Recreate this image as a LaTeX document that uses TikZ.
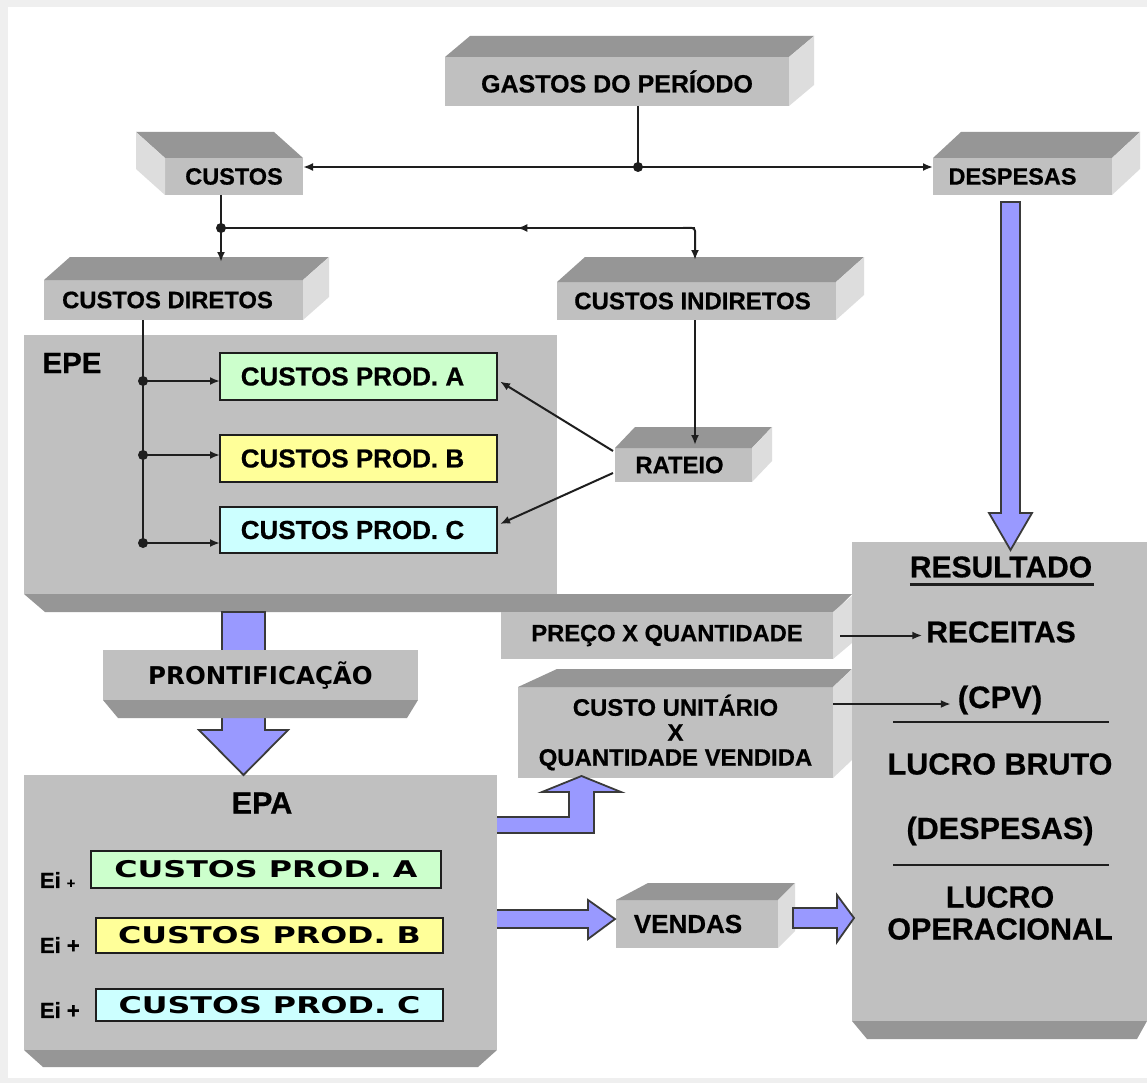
\documentclass[tikz,border=0pt]{standalone}
\usepackage{fontspec}
\setmainfont{Liberation Sans}[BoldFeatures={FakeBold=0.6}]
\newfontfamily\dvb{DejaVu Sans}
\newfontfamily\dvw{DejaVu Sans}[FakeStretch=1.38]
\usetikzlibrary{arrows.meta,calc,decorations.markings}
\definecolor{frontc}{HTML}{C0C0C0}
\definecolor{topc}{HTML}{969696}
\definecolor{sidec}{HTML}{DDDDDD}
\definecolor{lav}{HTML}{9999FF}
\definecolor{lavline}{HTML}{3A3A3A}
\definecolor{pga}{HTML}{CCFFCC}
\definecolor{pgb}{HTML}{FFFF99}
\definecolor{pgc}{HTML}{CCFFFF}
\definecolor{ink}{HTML}{1E1E1E}
\definecolor{framec}{HTML}{EFEFEF}
\newcommand\fsz[1]{\fontsize{#1}{#1}\selectfont}
\newcommand\mkbox[7]{%
  \pgfmathsetmacro\bxc{(#2+#4)/2}%
  \pgfmathsetmacro\byc{(#3+#5)/2}%
  \pgfmathsetmacro\bxw{#4-#2}%
  \pgfmathsetmacro\byh{#5-#3}%
  \node[#6, minimum width=\bxw pt, minimum height=\byh pt] (#1) at (\bxc,\byc) {#7};}
\newcommand\topface[3]{\fill[topc] (#1.north west) -- (#1.north east) -- ++(#2,#3) -- ($(#1.north west)+(#2,#3)$) -- cycle;}
\newcommand\rightface[3]{\fill[sidec] (#1.north east) -- ++(#2,#3) -- ($(#1.south east)+(#2,#3)$) -- (#1.south east) -- cycle;}
\newcommand\leftface[3]{\fill[sidec] (#1.north west) -- ++(#2,#3) -- ($(#1.south west)+(#2,#3)$) -- (#1.south west) -- cycle;}
\tikzset{
  face/.style={fill=frontc, draw=none, inner sep=0pt, outer sep=0pt, font=\bfseries, text=black},
  prodbox/.style={draw=ink, line width=1.8pt, inner sep=0pt, outer sep=0pt, font=\bfseries, text=black},
  conn/.style={draw=ink, line width=2pt},
  arr/.style={conn, -{Latex[length=10pt,width=8pt]}},
  bigarrow/.style={fill=lav, draw=lavline, line width=1.8pt, line join=miter},
  lbl/.style={inner sep=0pt, outer sep=0pt, font=\bfseries, text=black},
}
\begin{document}
\begin{tikzpicture}[x=1pt,y=-1pt]
\useasboundingbox (0,0) rectangle (1147,1083);
\fill[framec] (0,0) rectangle (1147,1083);
\fill[white] (8,7) rectangle (1147,1078);

% ---- top boxes
\mkbox{gastos}{445}{57}{789}{106}{face}{\fsz{25}GASTOS DO PERÍODO}
\topface{gastos}{25}{-21}\rightface{gastos}{25}{-21}
\mkbox{custos}{165}{158}{303}{195}{face}{\fsz{23.5}CUSTOS}
\topface{custos}{-29}{-26}\leftface{custos}{-29}{-26}
\mkbox{despesas}{933}{158}{1112}{195}{face}{\hspace*{-20pt}\fsz{23.5}DESPESAS}
\topface{despesas}{28}{-26}\rightface{despesas}{28}{-26}
\mkbox{cdir}{44}{280}{303}{320}{face}{\hspace*{-12pt}\fsz{23.8}CUSTOS DIRETOS}
\topface{cdir}{26}{-23}\rightface{cdir}{26}{-23}
\mkbox{cind}{557}{282}{836}{320}{face}{\hspace*{-8pt}\fsz{24}CUSTOS INDIRETOS}
\topface{cind}{28}{-25}\rightface{cind}{28}{-25}

% ---- EPE
\mkbox{epe}{24}{335}{557}{594}{face}{}
\fill[topc] (epe.south west) -- (852,594) -- (834,612) -- (45,612) -- cycle;
\node[lbl] (epelbl) at (72,363) {\fsz{29.5}EPE};
\mkbox{pa}{220}{353}{497}{400}{prodbox,fill=pga}{\hspace*{-12pt}\fsz{26}CUSTOS PROD. A}
\mkbox{pb}{220}{435}{497}{482}{prodbox,fill=pgb}{\hspace*{-12pt}\fsz{26}CUSTOS PROD. B}
\mkbox{pc}{220}{507}{497}{553}{prodbox,fill=pgc}{\hspace*{-12pt}\fsz{26}CUSTOS PROD. C}

% ---- RATEIO
\mkbox{rat}{615}{448}{752}{482}{face}{\hspace*{-8pt}\fsz{23.8}RATEIO}
\topface{rat}{20}{-21}\rightface{rat}{20}{-21}

% ---- PRECO / CUSTO UNITARIO
\mkbox{preco}{501}{612}{833}{659}{face}{\fsz{23.7}PREÇO X QUANTIDADE}
\rightface{preco}{19}{-16}
\mkbox{cu}{518}{687}{833}{778}{face,align=center,font={\bfseries\fontsize{23.9}{25}\selectfont}}{CUSTO UNITÁRIO\\X\\QUANTIDADE VENDIDA}
\fill[topc] (cu.north west) -- (cu.north east) -- ++(19,-18) -- ($(cu.north west)+(39,-18)$) -- cycle;
\rightface{cu}{19}{-18}

% ---- EPA
\mkbox{epa}{24}{775}{497}{1050}{face}{}
\fill[topc] (epa.south west) -- (epa.south east) -- (478,1067) -- (43,1067) -- cycle;
\node[lbl] (epalbl) at (262,803) {\fsz{30.6}EPA};
\mkbox{qa}{91}{851}{441}{888}{prodbox,fill=pga}{\dvw\bfseries\fsz{23}CUSTOS PROD. A}
\mkbox{qb}{96}{918}{443}{953}{prodbox,fill=pgb}{\dvw\bfseries\fsz{23}CUSTOS PROD. B}
\mkbox{qc}{96}{989}{443}{1021}{prodbox,fill=pgc}{\dvw\bfseries\fsz{23}CUSTOS PROD. C}
\node[lbl, anchor=west] (eia) at (40,880) {\fsz{22}Ei {\fsz{14}+}};
\node[lbl, anchor=west] (eib) at (40,945) {\fsz{22}Ei +};
\node[lbl, anchor=west] (eic) at (40,1010) {\fsz{22}Ei +};

% ---- big arrow EPE -> EPA through PRONTIFICACAO
\draw[bigarrow] (222,612) -- (265,612) -- (265,730) -- (288,730) -- (243.5,775) -- (199,730) -- (222,730) -- cycle;
\mkbox{pront}{103}{650}{418}{700}{face}{\dvb\bfseries\fsz{24.5}PRONTIFICAÇÃO}
\fill[topc] (pront.south west) -- (pront.south east) -- ++(-11,18) -- ($(pront.south west)+(15,18)$) -- cycle;

% ---- VENDAS
\mkbox{vendas}{616}{900}{778}{948}{face}{\hspace*{-18pt}\fsz{26}VENDAS}
\fill[topc] (vendas.north west) -- (vendas.north east) -- ++(17,-17) -- ($(vendas.north west)+(32,-17)$) -- cycle;
\rightface{vendas}{17}{-17}

% ---- RESULTADO
\mkbox{result}{852}{542}{1147}{1021}{face}{}
\fill[topc] (result.south west) -- (result.south east) -- (1137,1039) -- (867,1039) -- cycle;
\node[lbl] (res) at (1001,567) {\fsz{30}RESULTADO};
\draw[ink, line width=3pt] ($(res.base west)+(0,7)$) -- ($(res.base east)+(2,7)$);
\node[lbl] (rec) at (1001,632) {\fsz{30}RECEITAS};
\node[lbl] (cpv) at (1000,700) {\fsz{31}(CPV)};
\draw[ink, line width=2.5pt] (893,722) -- (1109,722);
\node[lbl] (lb) at (1000,764) {\fsz{30.5}LUCRO BRUTO};
\node[lbl] (desp2) at (1000,831) {\fsz{30.6}(DESPESAS)};
\draw[ink, line width=2.5pt] (893,865) -- (1109,865);
\node[lbl, align=center, font={\bfseries\fontsize{30.5}{32}\selectfont}] (lo) at (1000,913) {LUCRO\\OPERACIONAL};

% ---- thin connectors
\coordinate (j1) at (638,167);
\draw[conn] (gastos.south -| j1) -- (j1);
\draw[arr] (j1) -- (j1 -| custos.east);
\draw[arr] (j1) -- (j1 -| despesas.west);
\fill[ink] (j1) circle (5);

\coordinate (j2) at (221,228);
\coordinate (j3) at (695,228);
\draw[conn] (custos.south -| j2) -- (j2);
\draw[arr] (j2) -- ($(cdir.north -| j2)+(0,-18)$);
\draw[conn, decoration={markings, mark=at position 0.375 with {\arrow{Latex[length=10pt,width=8pt]}}}, postaction={decorate}] (j3) -- (j2);
\draw[arr, rounded corners=3pt] ($(j3)+(-12,0)$) -- (j3) -- ($(cind.north -| j3)+(0,-22)$);
\fill[ink] (j2) circle (5);

\draw[arr] (cind.south -| j3) -- ($(rat.north -| j3)+(0,-3)$);

\coordinate (k1) at (143,381);
\coordinate (k2) at (143,455);
\coordinate (k3) at (143,543);
\draw[conn] (cdir.south -| k1) -- (k3);
\draw[arr] (k1) -- (k1 -| pa.west);
\draw[arr] (k2) -- (k2 -| pb.west);
\draw[arr] (k3) -- (k3 -| pc.west);
\foreach \k in {k1,k2,k3} \fill[ink] (\k) circle (5);

\draw[arr] ($(rat.west)+(-2,-14)$) -- ($(pa.east)+(3,5)$);
\draw[arr] ($(rat.west)+(-2,8)$) -- ($(pc.east)+(3,-6)$);

\coordinate (p1) at ($(preco.east)+(7,0)$);
\draw[arr] (p1) -- ($(p1 -| rec.west)+(-4,0)$);
\coordinate (c1) at ($(cu.north east)+(0,17)$);
\draw[arr] (c1) -- ($(c1 -| cpv.west)+(-7,0)$);

% ---- lavender block arrows
\draw[bigarrow] (1001,202) -- (1020,202) -- (1020,513) -- (1032,513) -- (1010.5,550) -- (989,513) -- (1001,513) -- cycle;
\fill[lav] (497,817) -- (569,817) -- (569,792) -- (542,792) -- (581.5,776) -- (621,792) -- (594,792) -- (594,833) -- (497,833) -- cycle;
\draw[bigarrow, fill=none] (497,817) -- (569,817) -- (569,792) -- (542,792) -- (581.5,776) -- (621,792) -- (594,792) -- (594,833) -- (497,833);
\fill[lav] (497,910) -- (588,910) -- (588,900) -- (615,919) -- (588,939) -- (588,928) -- (497,928) -- cycle;
\draw[bigarrow, fill=none] (497,910) -- (588,910) -- (588,900) -- (615,919) -- (588,939) -- (588,928) -- (497,928);
\draw[bigarrow] (793,908) -- (837,908) -- (837,895) -- (854,918) -- (837,942) -- (837,928) -- (793,928) -- cycle;
\end{tikzpicture}
\end{document}
